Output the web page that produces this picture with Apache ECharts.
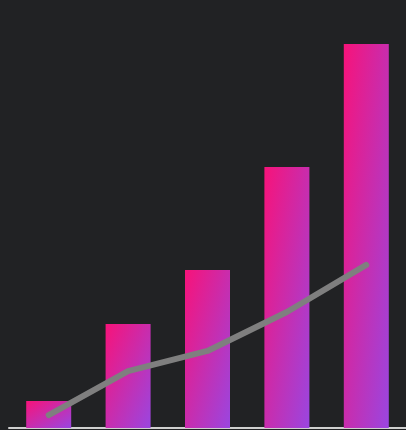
<!DOCTYPE html>
<html><head><meta charset="utf-8">
<script src="https://cdn.jsdelivr.net/npm/echarts@6/dist/echarts.min.js"></script>
<style>html,body{margin:0;padding:0;background:#212224;}#c{width:406px;height:430px;}</style>
</head><body><div id="c"></div>
<script>
var categories = ['A', 'B', 'C', 'D', 'E'];
var barValues = [6.3, 24.3, 36.9, 61.0, 89.7];
var lineValues = [3.0, 13.3, 18.0, 27.1, 38.1];
var BAR_W = 45;
var chart = echarts.init(document.getElementById('c'));
var option = {
  backgroundColor: '#212224',
  animation: false,
  grid: {left: 9, right: 0, top: 0, bottom: 2, containLabel: false},
  xAxis: {
    type: 'category', data: categories,
    axisLine: {show: true, lineStyle: {color: '#d0d0d0', width: 2}},
    axisTick: {show: false}, axisLabel: {show: false}
  },
  yAxis: {
    type: 'value', min: 0, max: 100,
    axisLine: {show: false}, axisTick: {show: false}, axisLabel: {show: false},
    splitLine: {show: false}
  },
  series: [{
    type: 'bar', data: barValues, barWidth: BAR_W,
    itemStyle: {color: '#e0207f'}
  }, {
    type: 'line', data: lineValues, symbol: 'none', z: 5,
    lineStyle: {color: '#7f7f7f', width: 6, cap: 'round', join: 'round'}
  }]
};
chart.setOption(option);
// gradient in normalized bbox space (top-left pink -> bottom-right purple)
var zeroY = chart.convertToPixel({gridIndex: 0}, [0, 0])[1];
var items = barValues.map(function (v, i) {
  var topY = chart.convertToPixel({gridIndex: 0}, [i, v])[1];
  var w = BAR_W, h = Math.max(1, zeroY - topY);
  var k = 2 / (1 / (w * w) + 1 / (h * h));
  return {
    value: v,
    itemStyle: {color: new echarts.graphic.LinearGradient(0, 0, k / (w * w), k / (h * h), [
      {offset: 0, color: '#f7137a'}, {offset: 1, color: '#9a46e0'}
    ])}
  };
});
chart.setOption({series: [{data: items}, {}]});
</script></body></html>
